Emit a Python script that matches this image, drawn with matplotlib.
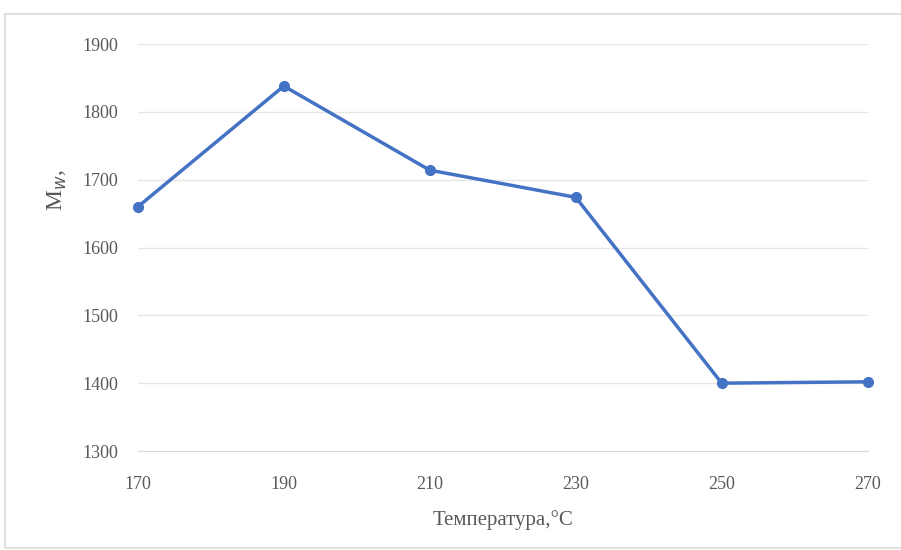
import matplotlib.pyplot as plt
from matplotlib.patches import Rectangle

temperature = [170, 190, 210, 230, 250, 270]
mw = [1660, 1838, 1714, 1674, 1400, 1402]
y_ticks = [1300, 1400, 1500, 1600, 1700, 1800, 1900]

plt.rcParams['font.family'] = ['Liberation Serif', 'DejaVu Serif']

fig = plt.figure(figsize=(9.01, 5.5), dpi=100)
fig.patches.append(Rectangle((0.005, 0.003), 1.0, 0.972, transform=fig.transFigure,
                             fill=False, edgecolor='#d9d9d9', linewidth=1.2))
ax = fig.add_axes([0.153, 0.18, 0.81, 0.74])

ax.plot(temperature, mw, color='#4472c4', linewidth=2.5, marker='o', markersize=7,
        clip_on=False, zorder=3)

ax.set_xlim(170, 270)
ax.set_ylim(1300, 1900)
ax.set_xticks(temperature)
ax.set_yticks(y_ticks)
ax.grid(axis='y', color='#e6e6e6', linewidth=1)
ax.set_axisbelow(True)
for side in ['top', 'right', 'left']:
    ax.spines[side].set_visible(False)
ax.spines['bottom'].set_color('#d9d9d9')
ax.tick_params(length=0, labelsize=13, colors='#595959')
ax.tick_params(axis='x', pad=18)
ax.tick_params(axis='y', pad=14)

ax.set_xlabel('Температура,°C', fontsize=15, color='#595959', labelpad=12)
ax.set_ylabel('M$_{w}$,', fontsize=17, color='#595959')
ax.yaxis.set_label_coords(-0.095, 0.64)

fig.savefig('out.png', dpi=100)
